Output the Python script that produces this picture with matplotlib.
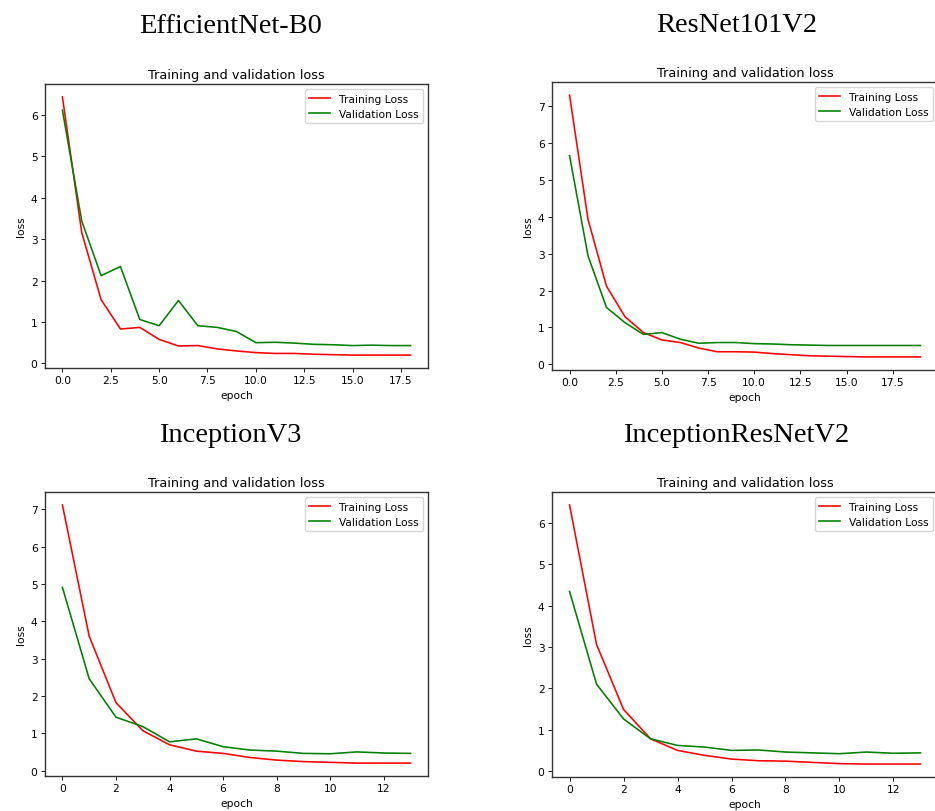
import matplotlib
matplotlib.use("Agg")
import matplotlib.pyplot as plt

# model names (big serif headings)
models = ["EfficientNet-B0", "ResNet101V2", "InceptionV3", "InceptionResNetV2"]

# loss curves
effnet_train = [6.44, 3.16, 1.54, 0.83, 0.87, 0.58, 0.42, 0.43, 0.35, 0.30,
                0.26, 0.24, 0.24, 0.22, 0.21, 0.20, 0.20, 0.20, 0.20]
effnet_val = [6.12, 3.44, 2.12, 2.34, 1.06, 0.91, 1.52, 0.91, 0.87, 0.77,
              0.50, 0.51, 0.49, 0.46, 0.45, 0.43, 0.44, 0.43, 0.43]

resnet_train = [7.30, 3.93, 2.12, 1.29, 0.86, 0.66, 0.59, 0.44, 0.34, 0.34,
                0.33, 0.29, 0.26, 0.23, 0.22, 0.21, 0.20, 0.20, 0.20, 0.20]
resnet_val = [5.66, 2.94, 1.54, 1.13, 0.81, 0.86, 0.68, 0.57, 0.59, 0.59,
              0.56, 0.55, 0.53, 0.52, 0.51, 0.51, 0.51, 0.51, 0.51, 0.51]

incv3_train = [7.12, 3.60, 1.82, 1.07, 0.69, 0.52, 0.46, 0.35, 0.28, 0.24,
               0.22, 0.20, 0.20, 0.20]
incv3_val = [4.91, 2.46, 1.43, 1.18, 0.77, 0.85, 0.64, 0.55, 0.52, 0.46,
             0.45, 0.50, 0.47, 0.46]

incres_train = [6.43, 3.06, 1.49, 0.78, 0.50, 0.38, 0.29, 0.25, 0.24, 0.21,
                0.18, 0.17, 0.17, 0.17]
incres_val = [4.34, 2.10, 1.26, 0.78, 0.62, 0.58, 0.50, 0.51, 0.46, 0.44,
              0.42, 0.46, 0.43, 0.44]

train_curves = [effnet_train, resnet_train, incv3_train, incres_train]
val_curves = [effnet_val, resnet_val, incv3_val, incres_val]

W, H = 935, 812
fig = plt.figure(figsize=(W / 100, H / 100), dpi=100)

# axes boxes in pixels: left, top, right, bottom
boxes = [(45, 85, 428, 369), (552, 83, 938, 371),
         (45, 493, 428, 777), (552, 493, 938, 778)]
# heading positions (centre x, baseline y) in pixels
heads = [(231, 33), (737, 32), (230, 442), (736, 442)]

s = 0.77  # the small plots were pasted in at roughly 77 dpi
for i in range(4):
    l, t, r, b = boxes[i]
    ax = fig.add_axes([l / W, 1 - b / H, (r - l) / W, (b - t) / H])
    epochs = list(range(len(train_curves[i])))
    ax.plot(epochs, train_curves[i], color="red", lw=1.5 * s, label="Training Loss")
    ax.plot(epochs, val_curves[i], color="green", lw=1.5 * s, label="Validation Loss")
    ax.set_title("Training and validation loss", fontsize=12 * s, pad=6 * s)
    ax.set_xlabel("epoch", fontsize=10 * s, labelpad=4 * s)
    ax.set_ylabel("loss", fontsize=10 * s, labelpad=4 * s)
    ax.tick_params(labelsize=10 * s, length=3.5 * s, width=0.8 * s, pad=3.5 * s)
    for sp in ax.spines.values():
        sp.set_linewidth(1.0)
        sp.set_color("#333333")
    ax.legend(loc="upper right", fontsize=10 * s)

    x, y = heads[i]
    fig.text(x / W, 1 - y / H, models[i], ha="center", va="baseline",
             fontsize=20.5, family="Liberation Serif")

fig.savefig("out.png", dpi=100)
